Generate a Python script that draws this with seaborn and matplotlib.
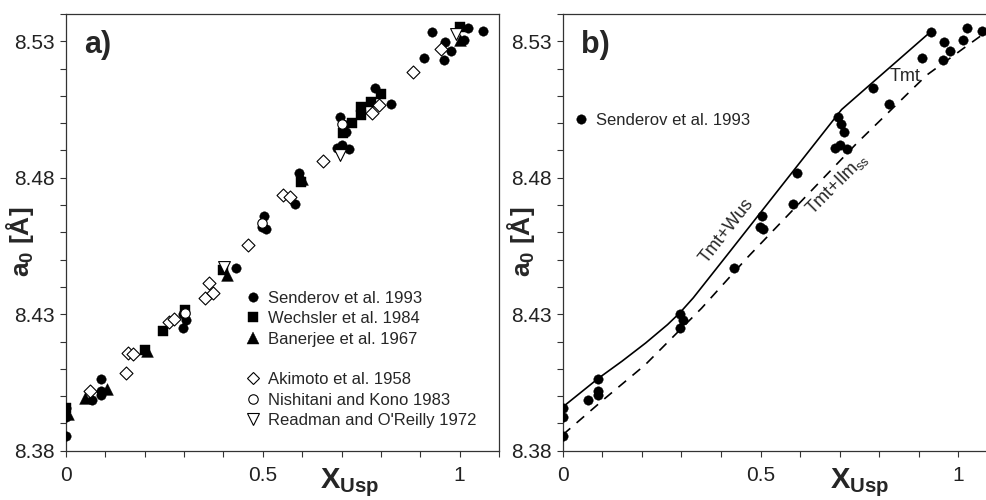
import numpy as np
import matplotlib
matplotlib.use('Agg')
import matplotlib.pyplot as plt
import seaborn as sns
from matplotlib.lines import Line2D

# ---------------- data ----------------
sen_x = [0, 0, 0, 0.065, 0.09, 0.09, 0.09, 0.297, 0.305, 0.297, 0.433, 0.503, 0.499, 0.507,
         0.583, 0.593, 0.695, 0.703, 0.711, 0.688, 0.701, 0.718, 0.784, 0.825, 0.909, 0.930,
         0.964, 0.961, 0.979, 1.011, 1.021, 1.059]
sen_y = [8.3955, 8.3925, 8.3855, 8.3986, 8.4062, 8.4020, 8.4004, 8.4301, 8.4279, 8.4248, 8.4468,
         8.4660, 8.4621, 8.4611, 8.4704, 8.4816, 8.5021, 8.4997, 8.4966, 8.4910, 8.4920, 8.4905,
         8.5130, 8.5070, 8.5240, 8.5335, 8.5298, 8.5231, 8.5265, 8.5304, 8.5347, 8.5338]

wech_x = [0, 0.2, 0.247, 0.302, 0.398, 0.598, 0.704, 0.727, 0.75, 0.75, 0.776, 0.801, 1.0]
wech_y = [8.3955, 8.4169, 8.4237, 8.4315, 8.4462, 8.4785, 8.4963, 8.5002, 8.5060, 8.5030,
          8.5078, 8.5107, 8.5353]

ban_x = [0.005, 0.048, 0.103, 0.205, 0.408, 0.600, 1.0]
ban_y = [8.3935, 8.3992, 8.4025, 8.4165, 8.4444, 8.4795, 8.5305]

aki_x = [0.062, 0.153, 0.158, 0.170, 0.262, 0.275, 0.353, 0.374, 0.363, 0.463, 0.552, 0.569,
         0.653, 0.778, 0.796, 0.881, 0.953]
aki_y = [8.4020, 8.4086, 8.4157, 8.4153, 8.4273, 8.4283, 8.4360, 8.4377, 8.4415, 8.4553, 8.4737,
         8.4730, 8.4861, 8.5038, 8.5066, 8.5186, 8.5270]

nis_x = [0.302, 0.499, 0.702]
nis_y = [8.4305, 8.4633, 8.4997]

rea_x = [0.401, 0.697, 0.991]
rea_y = [8.4472, 8.4883, 8.5326]

solid_x = [0, 0.09, 0.15, 0.21, 0.265, 0.296, 0.33, 0.42, 0.705, 0.93]
solid_y = [8.396, 8.4065, 8.4128, 8.4195, 8.4262, 8.4305, 8.436, 8.4525, 8.505, 8.5335]

dash_x = [0, 0.107, 0.208, 0.351, 0.465, 0.743, 0.92, 1.03, 1.1]
dash_y = [8.3858, 8.3992, 8.4114, 8.4322, 8.4505, 8.4926, 8.5176, 8.5292, 8.5365]

labels_a = ['Senderov et al. 1993', 'Wechsler et al. 1984', 'Banerjee et al. 1967',
            'Akimoto et al. 1958', 'Nishitani and Kono 1983', "Readman and O'Reilly 1972"]

x_major = [0, 0.5, 1]
x_major_labels = ['0', '0.5', '1']
y_major = [8.38, 8.43, 8.48, 8.53]
y_major_labels = ['8.38', '8.43', '8.48', '8.53']

# ---------------- style ----------------
sns.set_theme(style='ticks')
plt.rcParams['font.family'] = ['Liberation Sans', 'DejaVu Sans']
plt.rcParams['mathtext.fontset'] = 'custom'
plt.rcParams['mathtext.rm'] = 'Liberation Sans'
plt.rcParams['mathtext.bf'] = 'Liberation Sans:bold'
plt.rcParams['mathtext.it'] = 'Liberation Sans:italic'

fig = plt.figure(figsize=(9.86, 5), dpi=100)
H = 436.7 / 500
B = 49.3 / 500
axa = fig.add_axes([66 / 986, B, 433 / 986, H])
axb = fig.add_axes([562.7 / 986, B, 435.2 / 986, H])

# marker specs (marker, face, size in pt)
specs = [
    (sen_x, sen_y, 'o', 'black', 6.8),
    (wech_x, wech_y, 's', 'black', 7.6),
    (ban_x, ban_y, '^', 'black', 8.5),
    (aki_x, aki_y, 'D', 'white', 6.6),
    (nis_x, nis_y, 'o', 'white', 6.8),
    (rea_x, rea_y, 'v', 'white', 8.5),
]

for i, (xs, ys, m, fc, ms) in enumerate(specs):
    lw = 0.3 if fc == 'black' else 0.8
    sns.scatterplot(x=xs, y=ys, ax=axa, marker=m, s=ms ** 2, color=fc,
                    edgecolor='black', linewidth=lw, zorder=3 + i, legend=False)

# legend panel a
handles = []
for j, (xs, ys, m, fc, ms) in enumerate(specs):
    if j == 3:
        handles.append(Line2D([], [], linestyle='none', marker=None))
    handles.append(Line2D([], [], linestyle='none', marker=m, markersize=ms,
                          markerfacecolor=fc, markeredgecolor='black',
                          markeredgewidth=0.3 if fc == 'black' else 0.8))
leg_labels = labels_a[:3] + [' '] + labels_a[3:]
axa.legend(handles, leg_labels, loc='upper left', bbox_to_anchor=(0.416, 0.366),
           frameon=False, fontsize=12, borderpad=0, borderaxespad=0,
           handlelength=0.8, handletextpad=0.5, labelspacing=0.32)

# panel b
sns.lineplot(x=solid_x, y=solid_y, ax=axb, color='black', linewidth=1.2, sort=False,
             estimator=None, zorder=2)
sns.lineplot(x=dash_x, y=dash_y, ax=axb, color='black', linewidth=1.2, sort=False,
             estimator=None, zorder=2, dashes=False, linestyle=(0, (6, 5)))
sns.scatterplot(x=sen_x, y=sen_y, ax=axb, marker='o', s=6.8 ** 2, color='black',
                edgecolor='black', linewidth=0.3, zorder=3, legend=False)
hb = [Line2D([], [], linestyle='none', marker='o', markersize=6.8,
             markerfacecolor='black', markeredgecolor='black', markeredgewidth=0.3)]
axb.legend(hb, [labels_a[0]], loc='upper left', bbox_to_anchor=(0.026, 0.774),
           frameon=False, fontsize=12, borderpad=0, borderaxespad=0,
           handlelength=0.8, handletextpad=0.5)

axb.text(0.415, 8.4605, 'Tmt+Wus', fontsize=13, rotation=52, rotation_mode='anchor',
         ha='center', va='center')
axb.text(0.6926, 8.478, r'Tmt+Ilm$_{\mathrm{ss}}$', fontsize=13, rotation=45,
         rotation_mode='anchor', ha='center', va='center')
axb.text(0.865, 8.517, 'Tmt', fontsize=13, ha='center', va='center')

# axes formatting
for ax, tag in [(axa, 'a)'), (axb, 'b)')]:
    ax.set_xlim(0, 1.1)
    ax.set_ylim(8.38, 8.54)
    ax.set_xticks(x_major)
    ax.set_xticklabels(x_major_labels)
    ax.set_xticks(np.arange(0, 1.101, 0.1), minor=True)
    ax.set_yticks(y_major)
    ax.set_yticklabels(y_major_labels)
    ax.set_yticks(np.arange(8.38, 8.5401, 0.01), minor=True)
    ax.tick_params(which='both', direction='out', length=4, width=0.8, color='#333333',
                   labelsize=15, labelcolor='#222222')
    ax.tick_params(axis='x', which='both', pad=7)
    ax.tick_params(axis='y', which='both', pad=4)
    for s in ax.spines.values():
        s.set_linewidth(0.9)
        s.set_color('#333333')
    ax.text(0.042, 0.929, tag, transform=ax.transAxes, fontsize=22, fontweight='bold',
            ha='left', va='center')
    ax.set_ylabel(r'$\mathbf{a}_{\mathbf{0}}$ [Å]', fontsize=19, fontweight='bold')
    ax.set_xlabel(r'$\mathbf{X}_{\mathbf{Usp}}$', fontsize=21)

axa.yaxis.set_label_coords(-0.069, 0.479)
axb.yaxis.set_label_coords(-0.059, 0.479)
axa.xaxis.set_label_coords(0.654, -0.036)
axb.xaxis.set_label_coords(0.683, -0.036)

fig.savefig('out.png', dpi=100)
